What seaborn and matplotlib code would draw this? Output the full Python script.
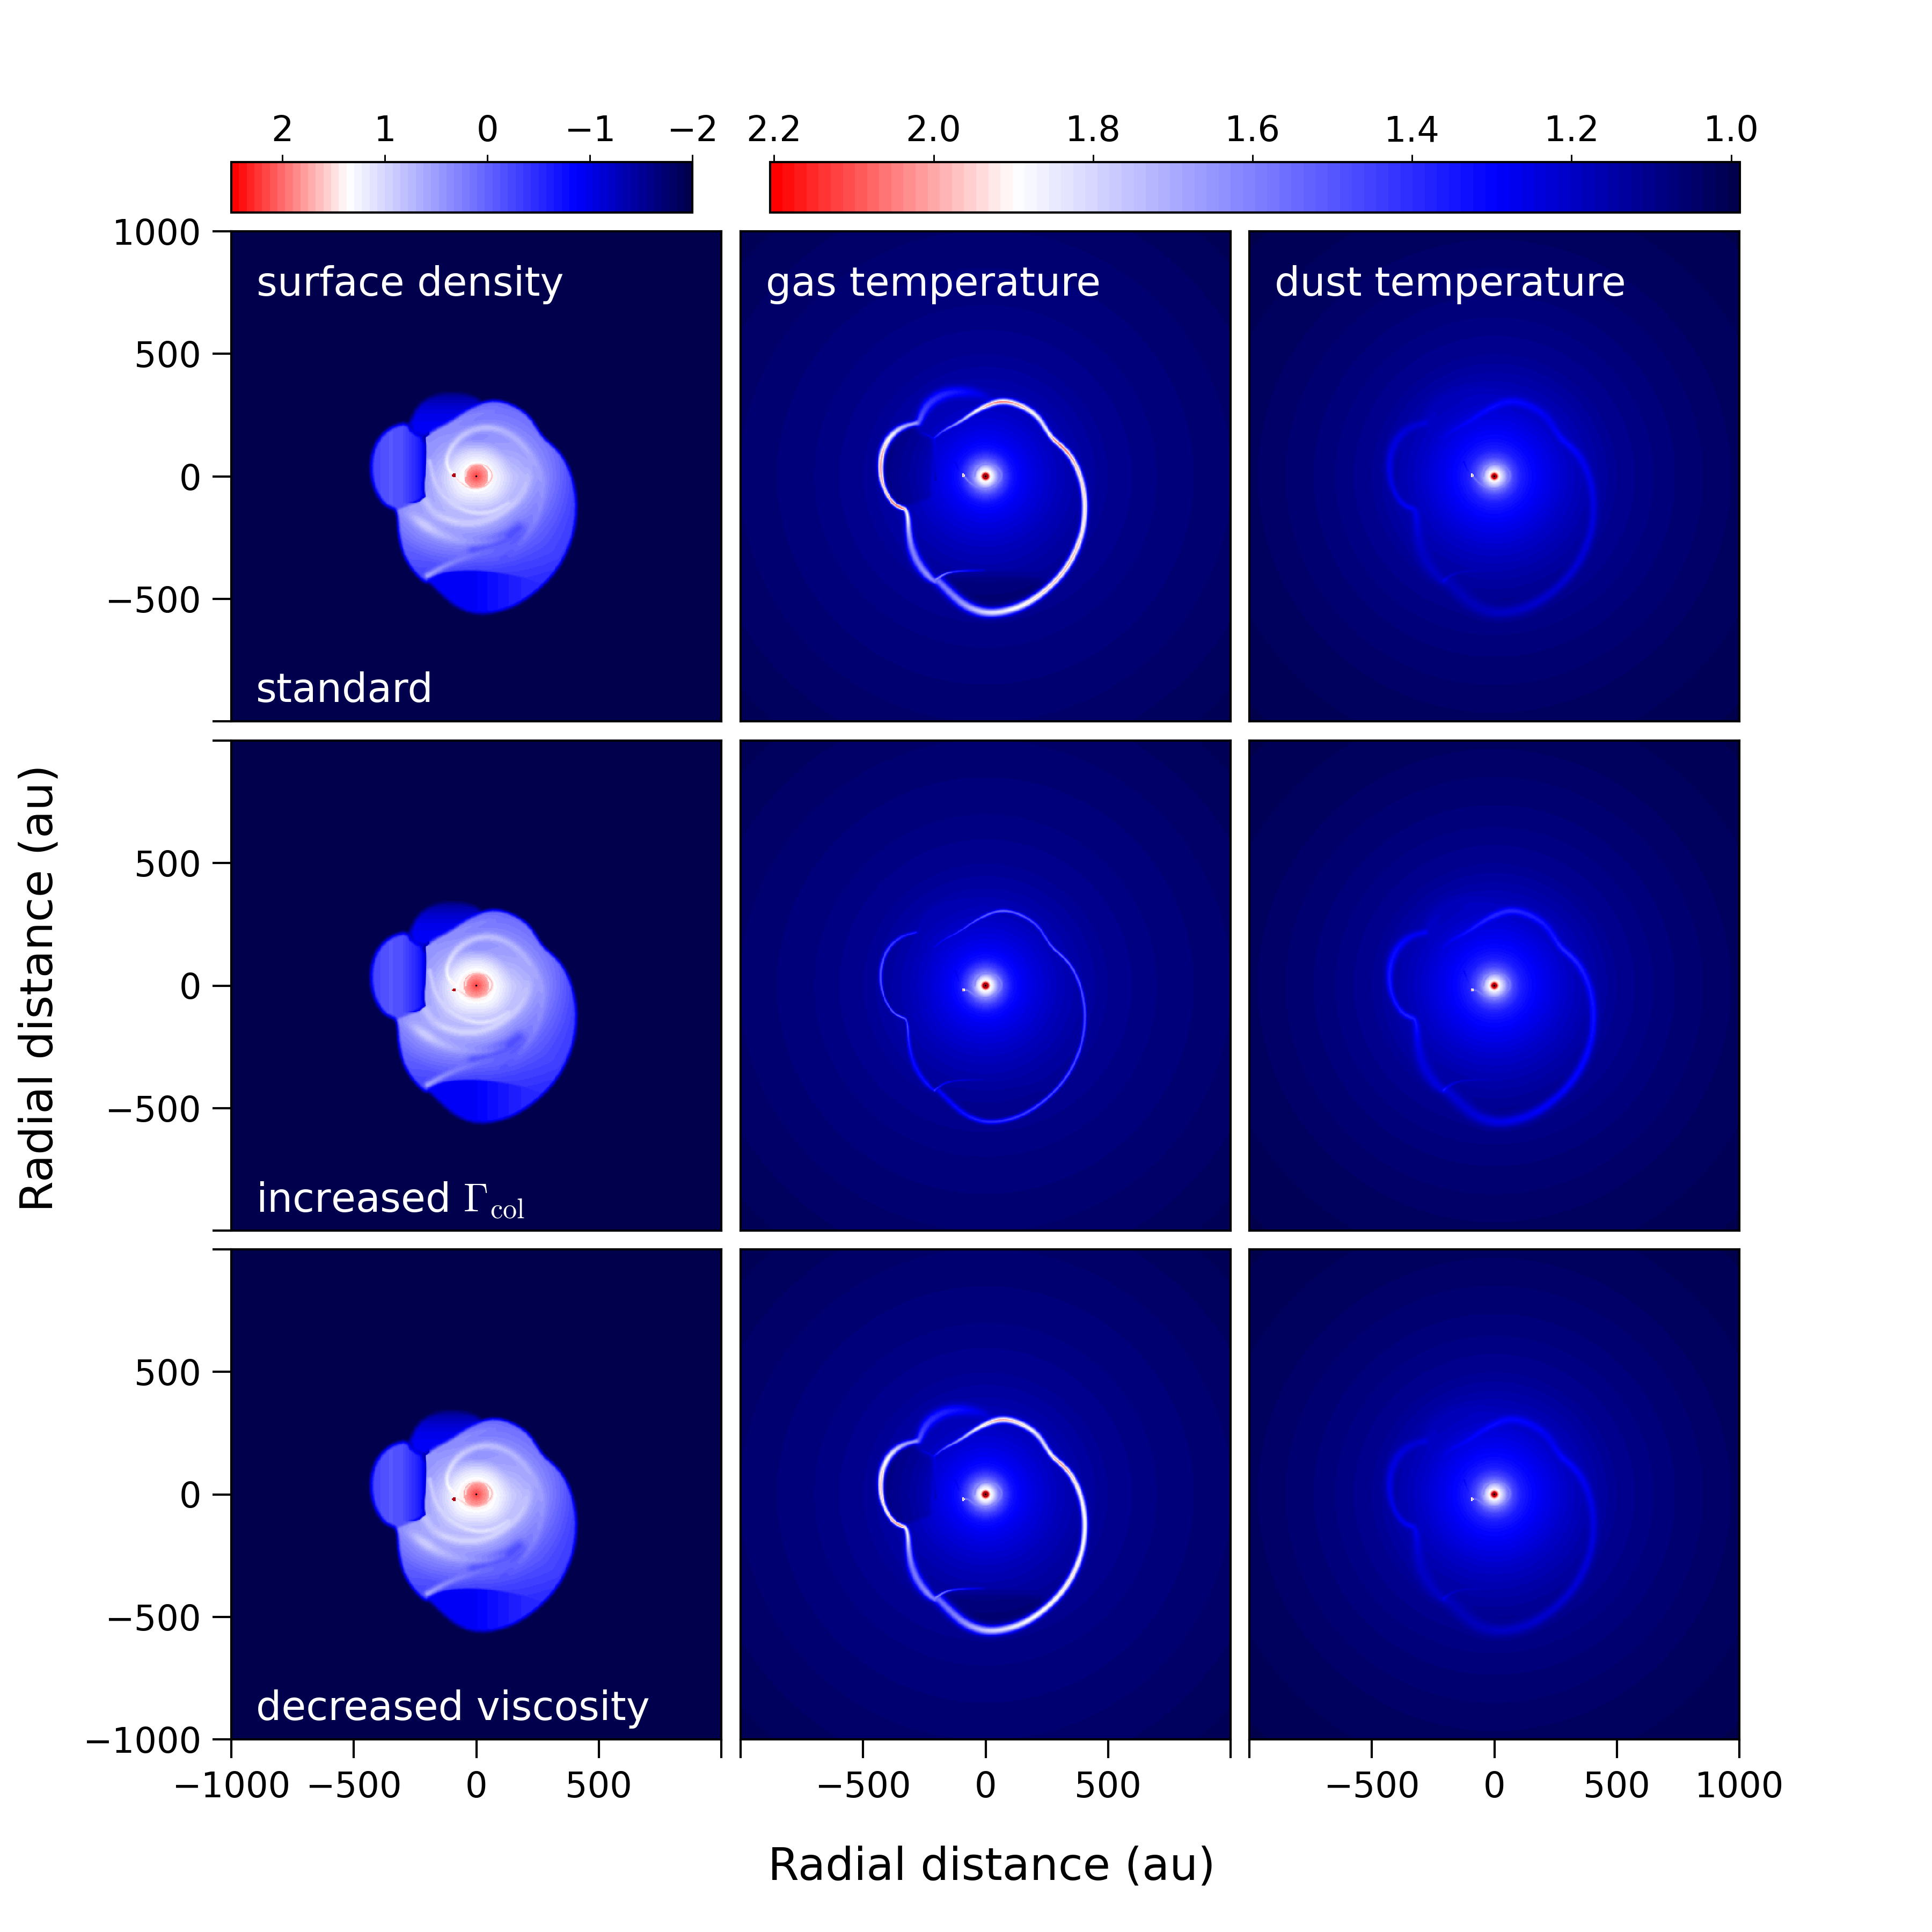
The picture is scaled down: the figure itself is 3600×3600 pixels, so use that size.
import numpy as np
import pandas as pd
import matplotlib
matplotlib.use('Agg')
import matplotlib.pyplot as plt
from matplotlib.colors import LinearSegmentedColormap
from matplotlib.path import Path
import seaborn as sns

# The panels are maps, the simulation grids are not available. Each field below is
# rebuilt from values: shell outlines, radial profiles, ridges.

row_labels = ['standard', r'increased $\Gamma_{\mathrm{col}}$', 'decreased viscosity']
col_labels = ['surface density', 'gas temperature', 'dust temperature']
density_ticks = [2, 1, 0, -1, -2]
temp_ticks = [2.2, 2.0, 1.8, 1.6, 1.4, 1.2, 1.0]

# shock front, au, clockwise from the inner corner, with peak log T and width
front_x = [-208, -175, -109, -51, -7, 51, 109, 175, 219, 248, 274, 314, 350, 383, 401, 407, 398, 372, 328, 270, 197, 124, 44, -22, -88, -139, -190]
front_y = [157, 186, 219, 259, 284, 306, 303, 274, 237, 190, 153, 120, 80, 15, -58, -131, -219, -299, -379, -445, -503, -540, -558, -554, -525, -481, -430]
front_logt = [1.35, 1.47, 1.66, 1.84, 1.98, 2.06, 2.02, 1.96, 1.84, 1.84, 2.02, 2.08, 2.02, 1.96, 1.96, 1.94, 1.94, 1.98, 1.98, 1.96, 1.94, 1.89, 1.84, 1.78, 1.66, 1.6, 1.57]
front_width = [3, 3, 4, 5, 6, 7, 7, 7, 7, 6, 6, 6, 7, 7, 7, 7, 7, 8, 8, 8, 9, 10, 10, 11, 12, 12, 11]

# lower left flank and the left lobe
lobe_x = [-208, -230, -270, -299, -314, -317, -325, -346, -376, -408, -427, -429, -412, -379, -336, -284]
lobe_y = [-429, -412, -365, -306, -233, -168, -135, -128, -113, -66, -7, 66, 128, 175, 204, 217]
lobe_logt = [1.57, 1.66, 1.6, 1.6, 1.66, 1.9, 1.96, 2.1, 2.08, 1.96, 2.02, 2.02, 1.96, 1.87, 1.72, 1.66]
lobe_width = [6, 10, 12, 11, 8, 6, 5, 5, 5, 5, 6, 7, 8, 8, 7, 5]

# faint upper arc
arc_x = [-274, -241, -175, -102, -22, 26]
arc_y = [219, 292, 336, 347, 336, 306]
arc_logt = [1.5, 1.42, 1.38, 1.33, 1.25, 1.2]
arc_width = [8, 13, 14, 14, 12, 8]

# faint inner fronts
seam_x = [-263, -208, -204, -208, -204]
seam_y = [179, 157, 102, 29, -15]
seam_logt = [1.2, 1.28, 1.24, 1.2, 1.13]
tail_x = [-208, -175, -124, -7]
tail_y = [-427, -401, -387, -383]
tail_logt = [1.75, 1.6, 1.4, 1.2]

# arm from the companion around the central disc
arm_x = [-73, -51, -22, 7, 44, 66, 62, 40, 11, -18, -40, -44]
arm_y = [-18, -36, -50, -51, -36, -7, 22, 44, 51, 47, 26, 0]
planet_x = -91
planet_y = [4, -18, -20]

# radial profiles
radius = [0, 10, 15, 20, 30, 45, 60, 80, 110, 150, 200, 300, 400, 500, 700, 1000, 1420]
gas_logt = [2.4, 2.3, 2.05, 1.9, 1.85, 1.68, 1.55, 1.44, 1.33, 1.28, 1.24, 1.18, 1.14, 1.11, 1.08, 1.05, 1.01]
dust_logt = [2.4, 2.25, 2.0, 1.9, 1.82, 1.68, 1.55, 1.45, 1.36, 1.31, 1.27, 1.2, 1.15, 1.11, 1.07, 1.03, 1.0]
disc_radius = [0, 25, 50]
disc_sigma = [2.2, 1.95, 1.72]

# log surface density by angle (rows, degrees) and radius (columns, au)
sigma_radii = [50, 100, 150, 200, 300, 400, 500, 600]
sigma_0 = [1.38, 1.15, 0.85, 0.7, 0.25, -0.3, -0.6, -0.6]
sigma_45 = [1.38, 1.05, 0.55, 0.45, 0.15, -0.1, -0.1, -0.1]
sigma_90 = [1.38, 1.0, 0.35, 0.3, 0.05, -0.1, -0.1, -0.1]
sigma_135 = [1.38, 1.05, 0.6, 0.45, 0.3, 0.2, 0.2, 0.2]
sigma_180 = [1.38, 1.15, 0.8, 0.5, 0.45, 0.3, 0.3, 0.3]
sigma_225 = [1.38, 1.15, 0.85, 0.65, 0.5, 0.0, -0.2, -0.2]
sigma_270 = [1.38, 1.05, 0.7, 0.6, 0.15, -0.4, -0.7, -0.7]
sigma_315 = [1.38, 1.15, 0.8, 0.5, 0.1, -0.2, -0.4, -0.5]

# spiral ridges in the surface density
ridge1_x = [-91, -115, -122, -108, -68, -9, 56, 122, 180, 231, 264, 271, 253, 217, 166, 107]
ridge1_y = [4, 29, 66, 109, 160, 193, 201, 182, 139, 73, 0, -73, -153, -226, -292, -336]
ridge1_s = [1.38, 1.3, 1.15, 1.0, 0.85, 0.75, 0.75, 0.68, 0.68, 0.6, 0.5, 0.42, 0.32, 0.2, 0.0, -0.2]
ridge2_x = [-206, -177, -126, -53, 27, 100, 173, 209, 209]
ridge2_y = [-102, -146, -175, -193, -186, -153, -95, -22, 44]
ridge2_s = [0.8, 0.8, 0.95, 0.92, 0.92, 0.92, 0.85, 0.8, 0.6]
ridge3_x = [-309, -272, -214, -155, -68, 34, 107]
ridge3_y = [-117, -153, -197, -233, -263, -270, -248]
ridge3_s = [0.3, 0.55, 1.0, 0.75, 0.55, 0.3, 0.05]
ridge4_x = [-199, -133, -53, 49, 136, 209]
ridge4_y = [-405, -368, -332, -306, -284, -226]
ridge4_s = [0.55, 0.3, 0.2, 0.05, -0.05, -0.15]
ridge5_x = [-199, -112, 4, 90]
ridge5_y = [139, 204, 255, 270]
ridge5_s = [0.4, 0.35, 0.3, 0.15]
ridge6_x = [-190, -170, -120, -30, 60, 130]
ridge6_y = [60, -30, -100, -150, -150, -110]
ridge6_s = [0.8, 0.9, 0.95, 1.05, 1.05, 0.95]
gap_x = [-9, 107, 173]
gap_y = [-299, -263, -212]
gap_s = [-0.2, -0.25, -0.15]

# closures of the filled regions
body_close_x = [-299, -206, -214, -206, -203]
body_close_y = [-124, -95, -44, 29, 117]
under_x = [-199, -112, -9, 100, 209, 282, 63, -112, -199]
under_y = [-412, -388, -383, -394, -416, -452, -569, -532, -445]
under_profile_x = [-200, -100, 0, 100, 200, 300]
under_profile_s = [-0.9, -0.95, -0.88, -0.7, -0.55, -0.5]
gap_region_x = [-168, -7, 212, 255, 197, 124, 44, -22, -88, -139]
gap_region_y = [-401, -387, -401, -445, -496, -529, -543, -540, -511, -467]
lobe_profile_x = [-430, -350, -300, -250, -210]
lobe_profile_s = [-0.29, -0.11, -0.2, -0.5, -0.875]
top_profile_y = [180, 250, 300, 350]
top_profile_s = [-0.875, -1.0, -1.235, -1.64]

# shell strength and width per row, gas and dust
gas_strength = [1.0, 0.4, 0.95]
gas_thin = [1.7, 0.95, 1.7]
gas_arc = [1.0, 0.12, 1.0]
dust_strength = [0.13, 0.22, 0.13]
dust_thin = [2.4, 2.2, 2.4]
dust_arc = [0.5, 0.4, 0.5]
sigma_shift = [0.0, 0.1, 0.1]

cell = 4.0
n = 500
xc = -1000 + cell * (np.arange(n) + 0.5)
yc = 1000 - cell * (np.arange(n) + 0.5)
X, Y = np.meshgrid(xc, yc)
R = np.hypot(X, Y)
THETA = np.degrees(np.arctan2(Y, X)) % 360


def smooth(columns, rounds=2):
    # corner cutting keeps the read-off nodes from showing as kinks
    a = np.array(columns, dtype=float).T
    for _ in range(rounds):
        q = 0.75 * a[:-1] + 0.25 * a[1:]
        p = 0.25 * a[:-1] + 0.75 * a[1:]
        mid = np.empty((2 * len(q), a.shape[1]))
        mid[0::2] = q
        mid[1::2] = p
        a = np.vstack([a[0], mid, a[-1]])
    return a.T


def nearest(xs, ys):
    best = np.full(X.shape, 1e12)
    where = np.zeros(X.shape)
    for i in range(len(xs) - 1):
        dx = xs[i + 1] - xs[i]
        dy = ys[i + 1] - ys[i]
        t = np.clip(((X - xs[i]) * dx + (Y - ys[i]) * dy) / (dx * dx + dy * dy + 1e-9), 0, 1)
        d = (X - xs[i] - t * dx) ** 2 + (Y - ys[i] - t * dy) ** 2
        hit = d < best
        best[hit] = d[hit]
        where[hit] = i + t[hit]
    return np.sqrt(best), where


def ribbon(xs, ys, level, width):
    c = smooth([xs, ys, level, width])
    d, where = nearest(c[0], c[1])
    idx = np.arange(c.shape[1])
    return d, np.interp(where, idx, c[2]), np.interp(where, idx, c[3])


def blend(v, rib, strength=1.0, thin=1.0):
    d, peak, w = rib
    return v + (peak - v) * strength * np.exp(-(d / (w * thin)) ** 2)


def region(xs, ys, inner, outer):
    # soft mask of a closed outline, full at `inner` au inside, zero `outer` au outside
    c = smooth([list(xs) + [xs[0]], list(ys) + [ys[0]]], rounds=1)
    d, _ = nearest(c[0], c[1])
    inside = Path(c.T).contains_points(np.column_stack([X.ravel(), Y.ravel()])).reshape(X.shape)
    m = np.clip(((np.where(inside, d, -d)) + outer) / (inner + outer), 0, 1)
    return m * m * (3 - 2 * m)


def const(values, like):
    return [values] * len(like)


front = ribbon(front_x, front_y, front_logt, front_width)
lobe = ribbon(lobe_x, lobe_y, lobe_logt, lobe_width)
arc = ribbon(arc_x, arc_y, arc_logt, arc_width)
seam = ribbon(seam_x, seam_y, seam_logt, const(3, seam_x))
tail = ribbon(tail_x, tail_y, tail_logt, const(4, tail_x))

ridges = [
    ribbon(gap_x, gap_y, gap_s, const(25, gap_x)),
    ribbon(ridge5_x, ridge5_y, ridge5_s, const(12, ridge5_x)),
    ribbon(ridge4_x, ridge4_y, ridge4_s, const(13, ridge4_x)),
    ribbon(ridge3_x, ridge3_y, ridge3_s, const(20, ridge3_x)),
    ribbon(ridge2_x, ridge2_y, ridge2_s, const(17, ridge2_x)),
    ribbon(ridge6_x, ridge6_y, ridge6_s, const(10, ridge6_x)),
    ribbon(ridge1_x, ridge1_y, ridge1_s, [6, 7, 9, 12, 15, 16, 16, 16, 16, 16, 16, 16, 16, 16, 13, 10]),
]

left_lobe_mask = region(lobe_x[6:] + [-263, -205] + body_close_x[::-1][1:],
                        lobe_y[6:] + [179, 157] + body_close_y[::-1][1:], 14, 18)
top_lobe_mask = region(arc_x + [-7, -51, -109, -175, -205, -263],
                       arc_y + [284, 259, 219, 186, 157, 179], 18, 14)
body_mask_soft = region(front_x + lobe_x[:7] + body_close_x, front_y + lobe_y[:7] + body_close_y, 10, 18)
body_mask_hard = region(front_x + lobe_x[:7] + body_close_x, front_y + lobe_y[:7] + body_close_y, 4, 4)
under_mask = region(under_x, under_y, 6, 6)
gap_mask = region(gap_region_x, gap_region_y, 40, 20)
lobe_dark_mask = region(lobe_x[6:] + [-263, -205] + body_close_x[::-1][1:],
                        lobe_y[6:] + [179, 157] + body_close_y[::-1][1:], 25, 0)

sigma_table = np.array([sigma_0, sigma_45, sigma_90, sigma_135, sigma_180, sigma_225,
                        sigma_270, sigma_315, sigma_0])
sigma_columns = np.array([np.interp(R, sigma_radii, row) for row in sigma_table])
k = np.floor(THETA / 45).astype(int)
frac = THETA / 45 - k
ii, jj = np.indices(X.shape)
sigma_polar = sigma_columns[k, ii, jj] * (1 - frac) + sigma_columns[k + 1, ii, jj] * frac
left_edge = (X < -190) & (Y > -110)
body_mask = np.where(left_edge, body_mask_hard, body_mask_soft)


def arm_ribbons(py):
    xs = [planet_x] + arm_x
    ys = [py] + arm_y
    bright = ribbon(xs, ys, [1.5, 1.5, 1.55, 1.6, 1.6, 1.65, 1.65, 1.65, 1.6, 1.6, 1.6, 1.5, 1.45], const(3.5, xs))
    faint = ribbon(xs, ys, const(1.6, xs), const(4, xs))
    up = ribbon([planet_x, -113, -124], [py, 29, 58], [1.45, 1.27, 1.22], [3, 3, 3])
    return bright, faint, up


arms = {py: arm_ribbons(py) for py in set(planet_y)}


def density_field(row):
    py = planet_y[row]
    v = np.full(X.shape, -2.0)
    top = np.interp(Y, top_profile_y, top_profile_s)
    v = v * (1 - top_lobe_mask) + top * top_lobe_mask
    side = np.interp(X, lobe_profile_x, lobe_profile_s)
    v = v * (1 - left_lobe_mask) + side * left_lobe_mask
    inner = sigma_polar.copy()
    under = np.interp(X, under_profile_x, under_profile_s)
    inner = inner * (1 - under_mask) + under * under_mask
    for rib in ridges:
        inner = blend(inner, rib)
    inner = inner + sigma_shift[row] * np.clip(1 - R / 300, 0, 1)
    disc = R < 50 + 2 * (row > 0)
    inner[disc] = np.interp(R[disc], disc_radius, disc_sigma)
    inner = blend(inner, arms[py][0])
    v = v * (1 - body_mask) + inner * body_mask
    rp = np.hypot(X - planet_x, Y - py)
    v[rp < 11] = 1.4
    v[rp < 8] = 2.6
    v[R < 3] = -3
    return v


def temp_field(row, dust):
    py = planet_y[row]
    v = np.interp(R, radius, dust_logt if dust else gas_logt)
    if dust:
        s, w, a = dust_strength[row], dust_thin[row], dust_arc[row]
        v = blend(v, arms[py][1], 0.7)
        v = blend(v, arms[py][2], 0.5)
    else:
        s, w, a = gas_strength[row], gas_thin[row], gas_arc[row]
        v = v - 0.05 * lobe_dark_mask * a - 0.05 * gap_mask * a
        v = blend(v, arms[py][1], 0.9)
        v = blend(v, arms[py][2], 0.7)
    v = blend(v, arc, s * a, w)
    v = blend(v, seam, s * a, min(w, 1.2))
    v = blend(v, tail, s, min(w, 1.2))
    v = blend(v, front, s, w)
    v = blend(v, lobe, s, w)
    rp = np.hypot(X - planet_x, Y - py)
    v[rp < 7] = 1.9
    v[rp < 3.5] = 2.05
    v[R < 4] = 0.5
    return v


sns.set_style('ticks', {'axes.edgecolor': 'black', 'text.color': 'black',
                        'xtick.color': 'black', 'ytick.color': 'black',
                        'axes.labelcolor': 'black'})
plt.rcParams['font.family'] = ['DejaVu Sans']
plt.rcParams['mathtext.fontset'] = 'cm'

stops = [(0, (0, 0, 0.3)), (0.25, (0, 0, 1)), (0.75, (1, 1, 1)), (1, (1, 0, 0))]
cmap_density = LinearSegmentedColormap.from_list('density', stops, N=60)
cmap_temp = LinearSegmentedColormap.from_list('temp', stops, N=80)
for cm in (cmap_density, cmap_temp):
    cm.set_under('black')
    cm.set_over('#b00010')

W = 3600.0
fig = plt.figure(figsize=(12, 12), dpi=300)
col_left = [431, 1380, 2328]
row_top = [431, 1380, 2328]
size = 913
all_ticks = [-1000, -500, 0, 500, 1000]

meshes = {}
for r in range(3):
    for c in range(3):
        ax = fig.add_axes([col_left[c] / W, 1 - (row_top[r] + size) / W, size / W, size / W])
        if c == 0:
            field, lo, hi, cm = density_field(r), -2.0, 2.5, cmap_density
        else:
            field, lo, hi, cm = temp_field(r, c == 2), 0.989, 2.205, cmap_temp
        frame = pd.DataFrame(field, index=yc, columns=xc)
        sns.heatmap(frame, ax=ax, cmap=cm, vmin=lo, vmax=hi, cbar=False,
                    xticklabels=False, yticklabels=False)
        meshes[c] = ax.collections[0]
        for sp in ax.spines.values():
            sp.set_visible(True)
            sp.set_linewidth(1.0)
            sp.set_color('black')
        ax.set_xlabel('')
        ax.set_ylabel('')
        ax.set_xticks([])
        ax.set_yticks([])
        if c == 0:
            ax.set_yticks([(1000 - t) / cell for t in all_ticks])
            ax.set_yticklabels([str(t).replace('-', '\u2212') if not ((t == 1000 and r != 0) or (t == -1000 and r != 2)) else ''
                                for t in all_ticks], rotation=0)
            ax.tick_params(axis='y', left=True, length=8.4, width=1.0, pad=5, labelsize=15.7)
        if r == 2:
            ax.set_xticks([(t + 1000) / cell for t in all_ticks])
            ax.set_xticklabels([str(t).replace('-', '\u2212') if not ((t == -1000 and c != 0) or (t == 1000 and c != 2)) else ''
                                for t in all_ticks], rotation=0)
            ax.tick_params(axis='x', bottom=True, length=8.4, width=1.0, pad=5.5, labelsize=15.7)
        if r == 0:
            ax.text(0.052, 0.891, col_labels[c], color='white', fontsize=17.9,
                    transform=ax.transAxes, va='center')
        if c == 0:
            ax.text(0.05, 0.062, row_labels[r], color='white', fontsize=17.9,
                    transform=ax.transAxes, va='center')

cax1 = fig.add_axes([431 / W, 1 - 396 / W, 859 / W, 94 / W])
cax2 = fig.add_axes([1435 / W, 1 - 396 / W, 1807 / W, 94 / W])
cb1 = fig.colorbar(meshes[0], cax=cax1, orientation='horizontal', ticks=density_ticks)
cb2 = fig.colorbar(meshes[1], cax=cax2, orientation='horizontal', ticks=temp_ticks)
cb2.ax.set_xticklabels(['%.1f' % t for t in temp_ticks])
for cb in (cb1, cb2):
    cb.ax.invert_xaxis()
    cb.ax.xaxis.set_ticks_position('top')
    cb.ax.tick_params(axis='x', top=True, bottom=False, length=3.4, width=0.7, pad=2.5, labelsize=15.7)
    cb.ax.minorticks_off()
    cb.outline.set_linewidth(1.0)
    cb.outline.set_edgecolor('black')

fig.text(0.5134, 0.0335, 'Radial distance (au)', fontsize=20, ha='center', va='center')
fig.text(0.0205, 0.4885, 'Radial distance (au)', fontsize=20, ha='center', va='center', rotation=90)

fig.savefig('out.png', dpi=300)
